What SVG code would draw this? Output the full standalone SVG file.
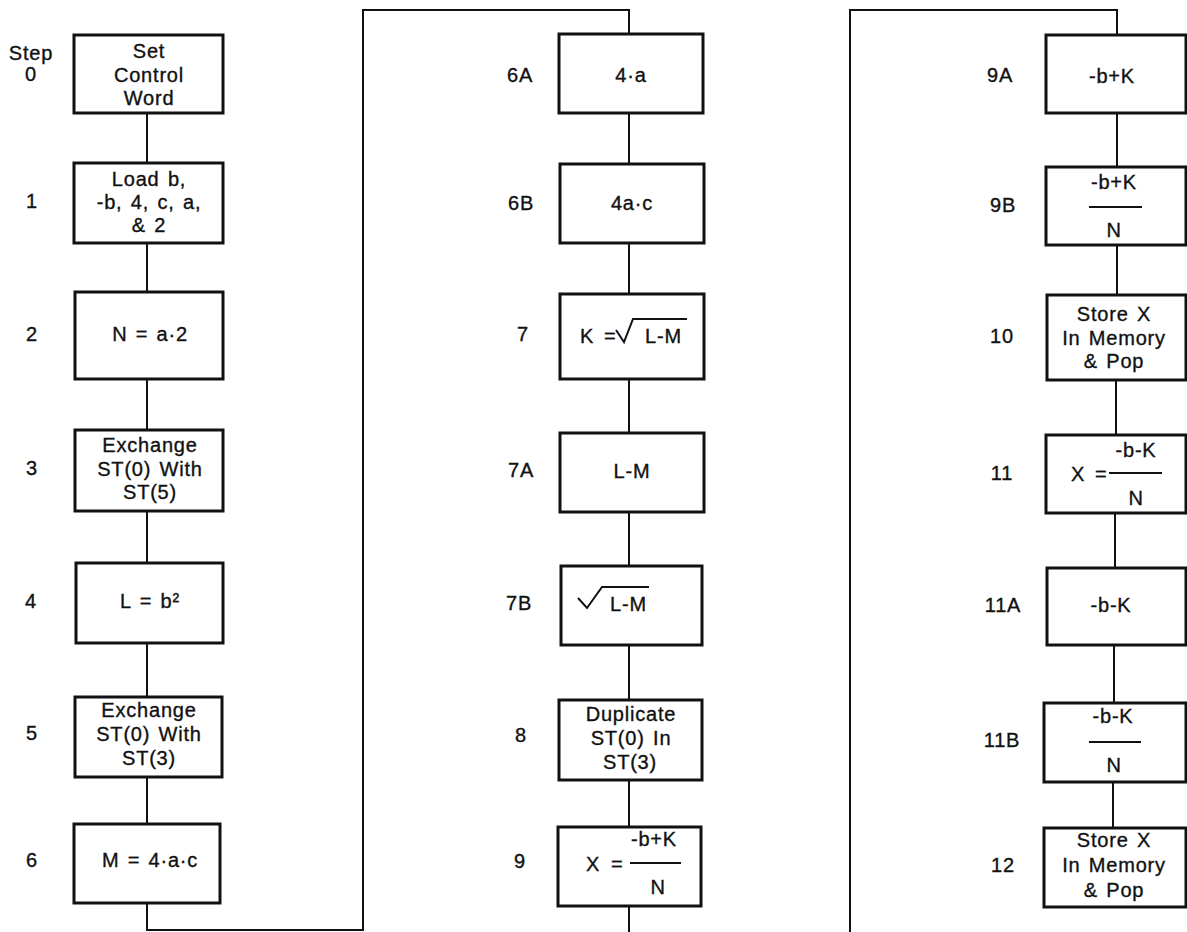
<svg xmlns="http://www.w3.org/2000/svg" width="1187" height="932" viewBox="0 0 1187 932">
<style>
.box{fill:#fff;stroke:#111;stroke-width:3}
.con{fill:none;stroke:#111;stroke-width:2}
text{font-family:"Liberation Sans",Arial,sans-serif;font-size:20px;fill:#111;stroke:#111;stroke-width:0.35px;letter-spacing:0.8px;word-spacing:2px}
.c{text-anchor:middle}
.bar{stroke:#111;stroke-width:2}
.rad{fill:none;stroke:#111;stroke-width:2}
</style>
<rect width="1187" height="932" fill="#fff"/>
<g id="connectors">
<path class="con" d="M147,113V163M147,243V292M147,379V430M147,511V563M147,643V697M147,777V824M147,903V930H363V10H629V34"/>
<path class="con" d="M629,113V164M629,243V294M629,379V433M629,512V566M629,645V700M629,780V827M629,906V932"/>
<path class="con" d="M850,932V10H1117V35M1117,113V167M1117,245V295M1116,380V435M1115,513V568M1114,645V703M1113,782V828"/>
</g>
<g id="n0"><rect class="box" x="74" y="35" width="149" height="78"/><text class="c" x="31" y="60">Step</text><text class="c" x="31" y="81">0</text><text class="c" x="149" y="58">Set</text><text class="c" x="149" y="82">Control</text><text class="c" x="149" y="105">Word</text></g>
<g id="n1"><rect class="box" x="74" y="163" width="149" height="80"/><text class="c" x="32" y="208">1</text><text class="c" x="149" y="186">Load b,</text><text class="c" x="149" y="209">-b, 4, c, a,</text><text class="c" x="149" y="232">&amp; 2</text></g>
<g id="n2"><rect class="box" x="75" y="292" width="148" height="87"/><text class="c" x="32" y="341">2</text><text class="c" x="150" y="341">N = a·2</text></g>
<g id="n3"><rect class="box" x="75" y="430" width="148" height="81"/><text class="c" x="32" y="475">3</text><text class="c" x="150" y="452">Exchange</text><text class="c" x="150" y="476">ST(0) With</text><text class="c" x="150" y="499">ST(5)</text></g>
<g id="n4"><rect class="box" x="76" y="563" width="147" height="80"/><text class="c" x="31" y="608">4</text><text class="c" x="150" y="608">L = b²</text></g>
<g id="n5"><rect class="box" x="75" y="697" width="147" height="80"/><text class="c" x="32" y="740">5</text><text class="c" x="149" y="717">Exchange</text><text class="c" x="149" y="741">ST(0) With</text><text class="c" x="149" y="765">ST(3)</text></g>
<g id="n6"><rect class="box" x="74" y="824" width="146" height="79"/><text class="c" x="32" y="867">6</text><text class="c" x="150" y="867">M = 4·a·c</text></g>

<g id="n6A"><rect class="box" x="559" y="34" width="144" height="79"/><text class="c" x="520" y="82">6A</text><text class="c" x="631" y="82">4·a</text></g>
<g id="n6B"><rect class="box" x="560" y="164" width="144" height="79"/><text class="c" x="521" y="210">6B</text><text class="c" x="632" y="210">4a·c</text></g>
<g id="n7"><rect class="box" x="560" y="294" width="144" height="85"/><text class="c" x="523" y="341">7</text><text x="580" y="343">K</text><text x="604" y="343">=</text><path class="rad" d="M616,330L624,342L633,319H687"/><text x="645" y="343">L-M</text></g>
<g id="n7A"><rect class="box" x="560" y="433" width="144" height="79"/><text class="c" x="521" y="477">7A</text><text class="c" x="632" y="478">L-M</text></g>
<g id="n7B"><rect class="box" x="561" y="566" width="141" height="79"/><text class="c" x="519" y="610">7B</text><path class="rad" d="M578,598L587,608L602,587H649"/><text x="610" y="611">L-M</text></g>
<g id="n8"><rect class="box" x="559" y="700" width="143" height="80"/><text class="c" x="521" y="742">8</text><text class="c" x="631" y="721">Duplicate</text><text class="c" x="631" y="745">ST(0) In</text><text class="c" x="630" y="769">ST(3)</text></g>
<g id="n9"><rect class="box" x="558" y="827" width="143" height="79"/><text class="c" x="520" y="868">9</text><text x="586" y="871">X</text><text x="611" y="871">=</text><line class="bar" x1="630" y1="863" x2="681" y2="863"/><text class="c" x="654" y="846">-b+K</text><text class="c" x="658" y="894">N</text></g>

<g id="n9A"><rect class="box" x="1046" y="35" width="140" height="78"/><text class="c" x="1000" y="82">9A</text><text class="c" x="1112" y="83">-b+K</text></g>
<g id="n9B"><rect class="box" x="1046" y="167" width="140" height="78"/><text class="c" x="1003" y="212">9B</text><text class="c" x="1114" y="189">-b+K</text><line class="bar" x1="1089" y1="207" x2="1142" y2="207"/><text class="c" x="1114" y="237">N</text></g>
<g id="n10"><rect class="box" x="1047" y="295" width="139" height="85"/><text class="c" x="1002" y="343">10</text><text class="c" x="1114" y="321">Store X</text><text class="c" x="1114" y="345">In Memory</text><text class="c" x="1114" y="368">&amp; Pop</text></g>
<g id="n11"><rect class="box" x="1046" y="435" width="140" height="78"/><text class="c" x="1002" y="480">11</text><text x="1071" y="481">X</text><text x="1095" y="481">=</text><line class="bar" x1="1109" y1="473" x2="1162" y2="473"/><text class="c" x="1136" y="457">-b-K</text><text class="c" x="1136" y="505">N</text></g>
<g id="n11A"><rect class="box" x="1047" y="568" width="139" height="77"/><text class="c" x="1003" y="612">11A</text><text class="c" x="1111" y="612">-b-K</text></g>
<g id="n11B"><rect class="box" x="1044" y="703" width="142" height="79"/><text class="c" x="1002" y="747">11B</text><text class="c" x="1113" y="723">-b-K</text><line class="bar" x1="1089" y1="742" x2="1141" y2="742"/><text class="c" x="1114" y="772">N</text></g>
<g id="n12"><rect class="box" x="1044" y="828" width="142" height="79"/><text class="c" x="1003" y="872">12</text><text class="c" x="1114" y="847">Store X</text><text class="c" x="1114" y="872">In Memory</text><text class="c" x="1114" y="897">&amp; Pop</text></g>
</svg>
